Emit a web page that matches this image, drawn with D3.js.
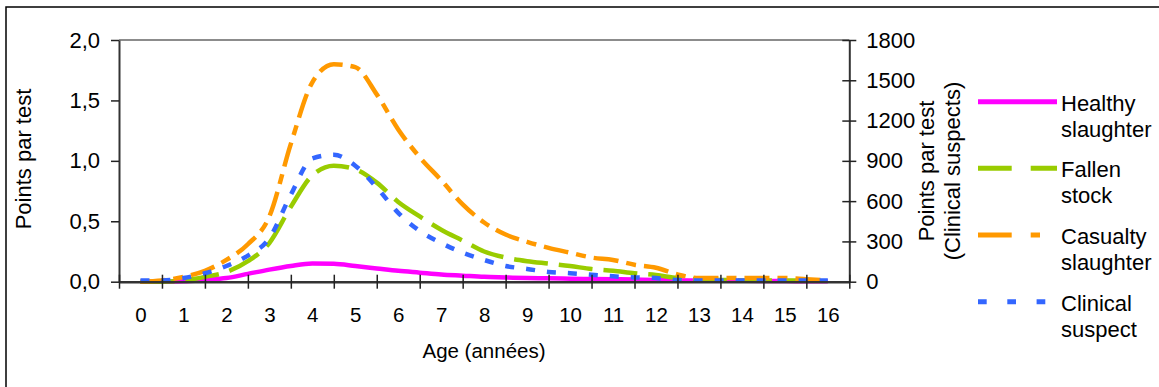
<!DOCTYPE html>
<html><head><meta charset="utf-8">
<script src="https://cdn.jsdelivr.net/npm/d3@7"></script>
<style>
body{margin:0;background:#fff}
svg{display:block}
text{font-family:"Liberation Sans",Arial,sans-serif;fill:#000}
</style>
</head><body>
<svg id="c" width="1159" height="387"></svg>
<script>
// ---- data ----
const ages = [0,0.5,1,1.5,2,2.5,3,3.5,4,4.5,5,5.5,6,6.5,7,7.5,8,8.5,9,9.5,10,10.5,11,11.5,12,12.5,13,13.5,14,14.5,15,15.5,16];
const healthy = [0,0,0.003,0.015,0.03,0.065,0.10,0.13,0.15,0.148,0.13,0.11,0.09,0.075,0.06,0.05,0.04,0.035,0.03,0.028,0.025,0.022,0.02,0.018,0.015,0.012,0.01,0.008,0.007,0.006,0.005,0.004,0.003];
const fallen = [0,0,0.01,0.04,0.08,0.17,0.32,0.62,0.88,0.96,0.93,0.82,0.66,0.54,0.43,0.34,0.25,0.20,0.17,0.15,0.13,0.105,0.09,0.07,0.055,0.03,0.02,0.015,0.01,0.01,0.01,0.01,0.005];
const casualty = [0,0.01,0.04,0.09,0.18,0.31,0.54,1.14,1.65,1.80,1.775,1.55,1.26,1.03,0.84,0.64,0.49,0.39,0.33,0.28,0.24,0.20,0.18,0.14,0.115,0.06,0.03,0.03,0.03,0.03,0.03,0.02,0.01];
const clinical = [9,9,27,63,117,194,324,648,918,945,864,702,513,378,288,216,162,117,95,72,63,52,40,32,27,13,9,9,9,9,9,9,9];
const xLabels = ["0","1","2","3","4","5","6","7","8","9","10","11","12","13","14","15","16"];
const leftTicks = [0,0.5,1,1.5,2];
const rightTicks = [0,300,600,900,1200,1500,1800];
const seriesNames = ["Healthy slaughter","Fallen stock","Casualty slaughter","Clinical suspect"];

// ---- layout ----
const svg = d3.select("#c");
const L = 119, R = 849.3, T = 40, B = 281.7;
const x = d3.scaleLinear().domain([-0.5, 16.5]).range([L, R]);
const yL = d3.scaleLinear().domain([0, 2]).range([B, T]);
const yR = d3.scaleLinear().domain([0, 1800]).range([B, T]);

// outer frame
svg.append("rect").attr("x",6).attr("y",7).attr("width",1170).attr("height",400)
  .attr("fill","none").attr("stroke","#000").attr("stroke-width",1.5);

// top grid line
svg.append("line").attr("x1",L).attr("x2",R).attr("y1",T).attr("y2",T)
  .attr("stroke","#8c8c8c").attr("stroke-width",2);

// series
const series = [
  {name:seriesNames[0], vals:healthy, y:yL, color:"#ff00ff", dash:null, ldash:null},
  {name:seriesNames[1], vals:fallen, y:yL, color:"#99cc00", dash:"34,11", ldash:"33.7,19"},
  {name:seriesNames[2], vals:casualty, y:yL, color:"#ff9900", dash:"25,8,10,8", ldash:"33.7,19,9.3,19"},
  {name:seriesNames[3], vals:clinical, y:yR, color:"#3366ff", dash:"9,12", ldash:"8.7,20.6"}
];

series.forEach(s => {
  const line = d3.line().x((d,i)=>x(ages[i])).y(d=>s.y(d)).curve(d3.curveMonotoneX);
  svg.append("path").datum(s.vals).attr("d", line)
    .attr("fill","none").attr("stroke", s.color).attr("stroke-width", 4.5)
    .attr("stroke-dasharray", s.dash).attr("stroke-linejoin","round");
});

// left axis
const gL = svg.append("g").attr("transform",`translate(${L},0)`)
  .call(d3.axisLeft(yL).tickValues(leftTicks).tickSize(8).tickSizeOuter(0).tickPadding(11)
    .tickFormat(d => d.toFixed(1).replace(".", ",")));
gL.select(".domain").attr("stroke","#333").attr("stroke-width",2);
gL.selectAll(".tick line").attr("stroke","#222").attr("stroke-width",1.5);
gL.selectAll("text").style("font-size","22px").attr("fill","#000");

// right axis
const gR = svg.append("g").attr("transform",`translate(${R},0)`)
  .call(d3.axisRight(yR).tickValues(rightTicks).tickSize(7).tickSizeOuter(0).tickPadding(10)
    .tickFormat(d3.format("d")));
gR.select(".domain").attr("stroke","#333").attr("stroke-width",2);
gR.selectAll(".tick line").attr("x1",-7).attr("stroke","#222").attr("stroke-width",1.5);
gR.selectAll("text").style("font-size","22px").attr("fill","#000");

// x axis: boundary ticks (crossing) and category labels
const bounds = d3.range(18).map(k => k - 0.5);
const gX = svg.append("g").attr("transform",`translate(0,${B})`)
  .call(d3.axisBottom(x).tickValues(bounds).tickSize(7).tickSizeOuter(0).tickFormat(""));
gX.select(".domain").attr("stroke","#333").attr("stroke-width",2.6);
gX.selectAll(".tick line").attr("y1",-7).attr("stroke","#222").attr("stroke-width",1.5);
const gXl = svg.append("g").attr("transform",`translate(0,${B})`)
  .call(d3.axisBottom(x).tickValues(d3.range(17)).tickSize(0).tickPadding(25.5)
    .tickFormat(d => xLabels[d]));
gXl.select(".domain").remove();
gXl.selectAll("text").style("font-size","20.5px").attr("fill","#000");

// axis titles
svg.append("text").attr("x",484).attr("y",358).attr("text-anchor","middle")
  .style("font-size","20.5px").text("Age (années)");
svg.append("text").attr("transform","translate(31,159) rotate(-90)").attr("text-anchor","middle")
  .style("font-size","22px").text("Points par test");
const rt = svg.append("g").attr("transform","translate(934,171) rotate(-90)");
rt.append("text").attr("text-anchor","middle").attr("y",0).style("font-size","22px").text("Points par test");
rt.append("text").attr("text-anchor","middle").attr("y",26).style("font-size","22px").text("(Clinical suspects)");

// legend
const legY = [101.7, 168.3, 235, 301.7];
series.forEach((s, i) => {
  const g = svg.append("g");
  g.append("line").attr("x1",978).attr("x2",1057).attr("y1",legY[i]).attr("y2",legY[i])
    .attr("stroke", s.color).attr("stroke-width",5).attr("stroke-dasharray", s.ldash);
  const words = s.name.split(" ");
  const t = g.append("text").attr("x",1061).attr("y",legY[i]+9).style("font-size","22px");
  words.forEach((w, j) => t.append("tspan").attr("x",1061).attr("dy", j===0?0:25.8).text(w));
});
</script>
</body></html>
